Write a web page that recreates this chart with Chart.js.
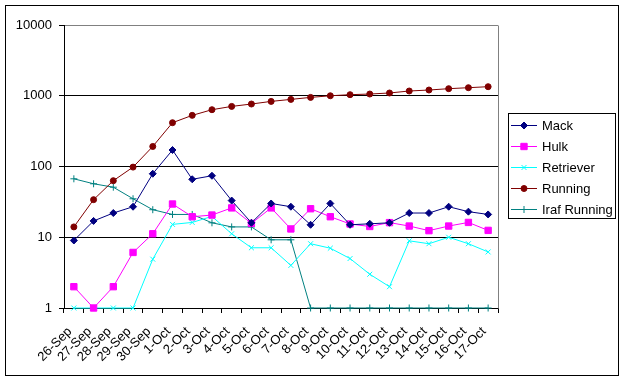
<!DOCTYPE html>
<html>
<head>
<meta charset="utf-8">
<script src="https://cdn.jsdelivr.net/npm/chart.js@4.4.0/dist/chart.umd.min.js"></script>
<style>
html,body{margin:0;padding:0;background:#fff;}
#wrap{width:625px;height:380px;position:relative;}
</style>
</head>
<body>
<div id="wrap"><canvas id="c" width="625" height="380"></canvas></div>
<script>
const categories = ['26-Sep','27-Sep','28-Sep','29-Sep','30-Sep','1-Oct','2-Oct','3-Oct','4-Oct','5-Oct','6-Oct','7-Oct','8-Oct','9-Oct','10-Oct','11-Oct','12-Oct','13-Oct','14-Oct','15-Oct','16-Oct','17-Oct'];
const mack = [9,17,22,27,79,171,66,74,33,16,30,27,15,30,15,15.5,16,22,22,27,23,21];
const hulk = [2,1,2,6.1,11.2,29.5,19.5,20.6,26,15.7,26,13.1,25.3,19.5,15.4,14.2,16.1,14.4,12.4,14.4,16.2,12.5];
const retriever = [1,1,1,1,4.9,15.2,16.2,19.7,11.2,7.1,7.1,4,8.1,7,5,3,2,8.9,8.1,10,8.1,6.2];
const running = [14,34,63,98,192,416,528,635,707,764,832,888,948,1000,1035,1058,1094,1167,1205,1259,1300,1343];
const irafRunning = [67,57,51,35,24.5,21,21,16,14,14,9.2,9.2,1,1,1,1,1,1,1,1,1,1];
const yTicks = [1,10,100,1000,10000];
const seriesNames = ['Mack','Hulk','Retriever','Running','Iraf Running'];

const FONT = 'Liberation Sans, Arial, sans-serif';

function ds(label, data, color, style, radius, fill) {
  return {
    label, data,
    borderColor: color, backgroundColor: fill ? color : 'rgba(0,0,0,0)',
    borderWidth: 1, pointStyle: style, pointRadius: radius, pointHoverRadius: radius,
    pointBorderColor: color, pointBackgroundColor: fill ? color : 'rgba(0,0,0,0)',
    pointBorderWidth: 1, tension: 0, clip: false
  };
}

const datasets = [
  ds(seriesNames[0], mack, '#000080', 'rectRot', 3.5, true),
  ds(seriesNames[1], hulk, '#FF00FF', 'rect', 4.5, true),
  ds(seriesNames[2], retriever, '#00FFFF', 'crossRot', 3.5, false),
  ds(seriesNames[3], running, '#800000', 'circle', 3, true),
  ds(seriesNames[4], irafRunning, '#008080', 'cross', 3.5, false)
];

const framePlugin = {
  id: 'frame',
  afterDraw(chart) {
    const ctx = chart.ctx;
    const a = chart.chartArea;
    ctx.save();
    ctx.strokeStyle = '#808080';
    ctx.lineWidth = 1;
    ctx.beginPath();
    ctx.moveTo(Math.round(a.right) + 0.5, Math.round(a.top) + 0.5);
    ctx.lineTo(Math.round(a.right) + 0.5, Math.round(a.bottom) + 0.5);
    ctx.stroke();
    ctx.strokeStyle = '#000';
    ctx.strokeRect(5.5, 5.5, 613, 370);
    const lx = 508.5, ly = 113.5, lw = 107, lh = 105;
    ctx.strokeRect(lx, ly, lw, lh);
    ctx.font = '13px ' + FONT;
    ctx.textBaseline = 'middle';
    ctx.textAlign = 'left';
    chart.data.datasets.forEach((d, i) => {
      const y = 125.5 + i * 21;
      ctx.strokeStyle = d.borderColor;
      ctx.lineWidth = 1;
      ctx.beginPath();
      ctx.moveTo(511, y);
      ctx.lineTo(537, y);
      ctx.stroke();
      ctx.fillStyle = d.pointBackgroundColor;
      ctx.strokeStyle = d.pointBorderColor;
      Chart.helpers.drawPoint(ctx, {pointStyle: d.pointStyle, radius: d.pointRadius, borderWidth: 1, rotation: 0}, 524, y);
      ctx.fillStyle = '#000';
      ctx.fillText(d.label, 542, y + 0.5);
    });
    ctx.restore();
  }
};

new Chart(document.getElementById('c'), {
  type: 'line',
  data: { labels: categories, datasets },
  options: {
    responsive: false,
    animation: false,
    devicePixelRatio: 1,
    layout: { padding: { left: 0, top: 25, right: 127, bottom: 0 } },
    plugins: { legend: { display: false }, tooltip: { enabled: false } },
    scales: {
      x: {
        type: 'category',
        offset: true,
        grid: { display: true, offset: true, drawOnChartArea: false, drawTicks: true, tickLength: 5, color: '#000' },
        border: { display: true, color: '#000', width: 1 },
        ticks: { autoSkip: false, minRotation: 45, maxRotation: 45, padding: 11, labelOffset: -4, color: '#000', font: { family: FONT, size: 13 } },
        afterFit(scale) { scale.height = 72; }
      },
      y: {
        type: 'logarithmic',
        min: 1, max: 10000,
        afterBuildTicks(scale) { scale.ticks = yTicks.map(v => ({ value: v })); },
        grid: {
          color: (c) => (c.tick && c.tick.value === 10000) ? '#808080' : '#000',
          tickColor: '#000',
          drawTicks: true, tickLength: 5, lineWidth: 1
        },
        border: { display: true, color: '#000', width: 1 },
        ticks: { color: '#000', padding: 7, font: { family: FONT, size: 13 }, callback: (v) => String(v) },
        afterFit(scale) { scale.width = 64; }
      }
    }
  },
  plugins: [framePlugin]
});
</script>
</body>
</html>
